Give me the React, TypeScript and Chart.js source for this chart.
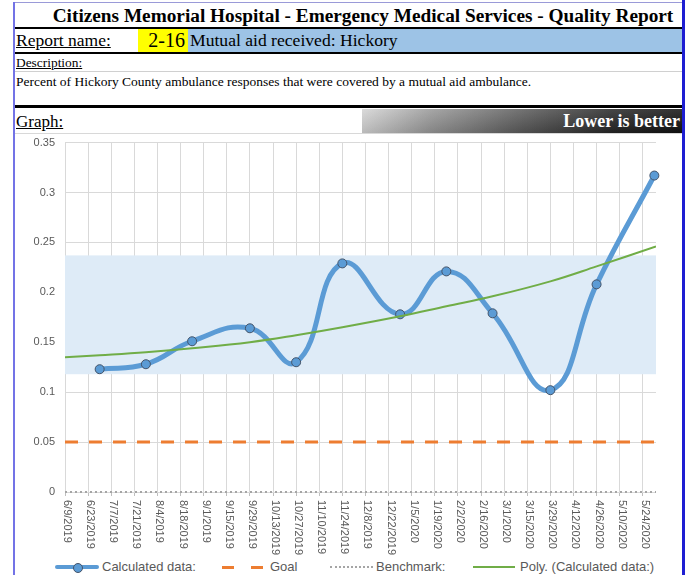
import React, { useEffect, useRef } from "react";
import { Chart, registerables } from "chart.js";

Chart.register(...registerables);

// ---- Data ----
const X_LABELS = [
  "6/9/2019", "6/23/2019", "7/7/2019", "7/21/2019", "8/4/2019", "8/18/2019",
  "9/1/2019", "9/15/2019", "9/29/2019", "10/13/2019", "10/27/2019", "11/10/2019",
  "11/24/2019", "12/8/2019", "12/22/2019", "1/5/2020", "1/19/2020", "2/2/2020",
  "2/16/2020", "3/1/2020", "3/15/2020", "3/29/2020", "4/12/2020", "4/26/2020",
  "5/10/2020", "5/24/2020",
];
const TICK_STEP_DAYS = 14; // days between axis labels
const X_MAX_DAYS = 358; // axis end (days after 6/9/2019)

// days after 6/9/2019 of each measurement
const CALC_DAYS = [21, 49, 77, 112, 140, 168, 203, 231, 259, 294, 322, 357];
const CALC_VALUES = [0.123, 0.128, 0.151, 0.164, 0.13, 0.229, 0.178, 0.221, 0.179, 0.102, 0.208, 0.317];

// polynomial trend
const TREND_DAYS = [0, 21, 49, 77, 112, 140, 168, 203, 231, 259, 294, 322, 358];
const TREND_VALUES = [0.135, 0.137, 0.14, 0.144, 0.15, 0.157, 0.165, 0.176, 0.186, 0.196, 0.211, 0.226, 0.246];

const GOAL_VALUE = 0.05;
const BENCHMARK_VALUE = 0;
const BAND_LOW = 0.118;
const BAND_HIGH = 0.237;

const Y_MAX = 0.35;
const Y_STEP = 0.05;

const FONT = "'Liberation Sans', Arial, sans-serif";
const SERIF = "'Liberation Serif', 'Times New Roman', serif";
const AXIS_TEXT = "#595959";

const bandPlugin = {
  id: "band",
  beforeDatasetsDraw(chart: any) {
    const { ctx, chartArea: a, scales } = chart;
    const y = scales.y;
    const top = y.getPixelForValue(BAND_HIGH);
    const bot = y.getPixelForValue(BAND_LOW);
    ctx.save();
    ctx.fillStyle = "#DEEBF7";
    ctx.fillRect(a.left, top, a.right - a.left, bot - top);
    ctx.restore();
  },
};

const xLabelPlugin = {
  id: "xlabels",
  afterDraw(chart: any) {
    const { ctx, chartArea: a, scales } = chart;
    const x = scales.x;
    ctx.save();
    ctx.fillStyle = AXIS_TEXT;
    ctx.font = `11px ${FONT}`;
    ctx.textAlign = "left";
    ctx.textBaseline = "middle";
    X_LABELS.forEach((lab, i) => {
      const px = x.getPixelForValue(i * TICK_STEP_DAYS);
      ctx.save();
      ctx.translate(px + 2, a.bottom + 8);
      ctx.rotate(Math.PI / 2);
      ctx.fillText(lab, 0, 0);
      ctx.restore();
    });
    ctx.restore();
  },
};

function ChartCanvas() {
  const ref = useRef<HTMLCanvasElement | null>(null);
  useEffect(() => {
    if (!ref.current) return;
    const toPts = (xs: number[], ys: number[]) => xs.map((d, i) => ({ x: d, y: ys[i] }));
    const chart = new Chart(ref.current, {
      type: "line",
      data: {
        datasets: [
          {
            label: "Poly. (Calculated data:)",
            data: toPts(TREND_DAYS, TREND_VALUES),
            borderColor: "#70AD47",
            borderWidth: 2,
            pointRadius: 0,
            tension: 0.4,
            fill: false,
            order: 0,
          },
          {
            label: "Calculated data:",
            data: toPts(CALC_DAYS, CALC_VALUES),
            borderColor: "#5B9BD5",
            borderWidth: 5,
            pointRadius: 4.5,
            pointBackgroundColor: "#5B9BD5",
            pointBorderColor: "#44546A",
            pointBorderWidth: 1,
            tension: 0.45,
            fill: false,
            order: 1,
            clip: 8,
          },
          {
            label: "Goal",
            data: [
              { x: 0, y: GOAL_VALUE },
              { x: X_MAX_DAYS, y: GOAL_VALUE },
            ],
            borderColor: "#ED7D31",
            borderWidth: 3,
            borderDash: [13, 11],
            pointRadius: 0,
            fill: false,
            order: 2,
          },
          {
            label: "Benchmark:",
            data: [
              { x: 0, y: BENCHMARK_VALUE },
              { x: X_MAX_DAYS, y: BENCHMARK_VALUE },
            ],
            borderColor: "#A5A5A5",
            borderWidth: 2,
            borderDash: [2, 3],
            pointRadius: 0,
            fill: false,
            order: 3,
            clip: false,
          },
        ],
      },
      options: {
        animation: false,
        responsive: false,
        maintainAspectRatio: false,
        layout: { padding: { top: 7, right: 26, left: 0, bottom: 0 } },
        plugins: { legend: { display: false }, tooltip: { enabled: false } },
        scales: {
          x: {
            type: "linear",
            min: 0,
            max: X_MAX_DAYS,
            afterBuildTicks: (s: any) => {
              s.ticks = X_LABELS.map((_, i) => ({ value: i * TICK_STEP_DAYS }));
            },
            afterFit: (s: any) => {
              s.height = 66;
            },
            ticks: { display: false },
            grid: { color: "#D9D9D9", lineWidth: 1, drawTicks: true, tickLength: 4, tickColor: "#BFBFBF" },
            border: { display: false },
          },
          y: {
            min: 0,
            max: Y_MAX,
            afterFit: (s: any) => {
              s.width = 50;
            },
            ticks: {
              stepSize: Y_STEP,
              color: AXIS_TEXT,
              font: { family: FONT, size: 11 },
              padding: 10,
              callback: (v: any) => String(Math.round(Number(v) * 100) / 100),
            },
            grid: { color: "#D9D9D9", lineWidth: 1, drawTicks: false },
            border: { display: false },
          },
        },
      },
      plugins: [bandPlugin, xLabelPlugin],
    } as any);
    return () => chart.destroy();
  }, []);
  return (
    <canvas
      ref={ref}
      width={667}
      height={432}
      style={{ position: "absolute", left: 15, top: 126, width: 667, height: 432 }}
    />
  );
}

function LegendItem(props: { left: number; sample: React.ReactNode; text: string; textLeft: number }) {
  return (
    <>
      <div style={{ position: "absolute", left: props.left, top: 560, height: 14 }}>{props.sample}</div>
      <div
        style={{
          position: "absolute",
          left: props.textLeft,
          top: 559,
          font: `13px ${FONT}`,
          color: AXIS_TEXT,
          lineHeight: "16px",
          whiteSpace: "nowrap",
        }}
      >
        {props.text}
      </div>
    </>
  );
}

export default function App() {
  return (
    <div
      style={{
        position: "fixed",
        left: 0,
        top: 0,
        width: 689,
        height: 575,
        background: "#fff",
        overflow: "hidden",
      }}
    >
      {/* frame */}
      <div style={{ position: "absolute", left: 13, top: 2, width: 670, height: 1, background: "#9A9AD8" }} />
      <div style={{ position: "absolute", left: 13, top: 2, width: 2, height: 573, background: "#7373E6" }} />
      <div style={{ position: "absolute", left: 682, top: 0, width: 3, height: 575, background: "#1E1ED2" }} />

      {/* title */}
      <div
        style={{
          position: "absolute",
          left: 44,
          top: 3,
          width: 638,
          height: 24,
          textAlign: "center",
          font: `bold 19.3px ${SERIF}`,
          lineHeight: "25px",
          color: "#000",
          whiteSpace: "nowrap",
        }}
      >
        Citizens Memorial Hospital - Emergency Medical Services - Quality Report
      </div>
      <div style={{ position: "absolute", left: 15, top: 27, width: 667, height: 2, background: "#000" }} />

      {/* report name row */}
      <div
        style={{
          position: "absolute",
          left: 16,
          top: 29,
          font: `17.5px ${SERIF}`,
          lineHeight: "23px",
          textDecoration: "underline",
          whiteSpace: "nowrap",
        }}
      >
        Report name:
      </div>
      <div
        style={{
          position: "absolute",
          left: 138,
          top: 29,
          width: 50,
          height: 23,
          background: "#FFFF00",
          font: `20px ${SERIF}`,
          lineHeight: "23px",
          textAlign: "right",
          boxSizing: "border-box",
          paddingRight: 3,
        }}
      >
        2-16
      </div>
      <div
        style={{
          position: "absolute",
          left: 188,
          top: 29,
          width: 494,
          height: 23,
          background: "#9DC3E6",
          font: `17.6px ${SERIF}`,
          lineHeight: "23px",
          paddingLeft: 2,
          boxSizing: "border-box",
          whiteSpace: "nowrap",
        }}
      >
        Mutual aid received: Hickory
      </div>
      <div style={{ position: "absolute", left: 15, top: 52, width: 667, height: 2, background: "#000" }} />

      {/* description */}
      <div
        style={{
          position: "absolute",
          left: 16,
          top: 55,
          font: `13.4px ${SERIF}`,
          lineHeight: "15px",
          textDecoration: "underline",
        }}
      >
        Description:
      </div>
      <div style={{ position: "absolute", left: 15, top: 71, width: 667, height: 1, background: "#D0D0D0" }} />
      <div
        style={{
          position: "absolute",
          left: 16,
          top: 74,
          font: `13.5px ${SERIF}`,
          lineHeight: "16px",
          whiteSpace: "nowrap",
        }}
      >
        Percent of Hickory County ambulance responses that were covered by a mutual aid ambulance.
      </div>
      <div style={{ position: "absolute", left: 15, top: 105, width: 667, height: 3, background: "#000" }} />

      {/* graph header */}
      <div
        style={{
          position: "absolute",
          left: 16,
          top: 111,
          font: `17px ${SERIF}`,
          lineHeight: "22px",
          textDecoration: "underline",
        }}
      >
        Graph:
      </div>
      <div
        style={{
          position: "absolute",
          left: 362,
          top: 109,
          width: 320,
          height: 24,
          background:
            "linear-gradient(to bottom, rgba(255,255,255,0.15), rgba(0,0,0,0.12)), linear-gradient(to right, #d4d4d4 0%, #969696 22%, #5a5a5a 50%, #262626 78%, #111 100%)",
          color: "#fff",
          font: `bold 18px ${SERIF}`,
          lineHeight: "24px",
          textAlign: "right",
          paddingRight: 2,
          boxSizing: "border-box",
          whiteSpace: "nowrap",
        }}
      >
        Lower is better
      </div>
      <div style={{ position: "absolute", left: 15, top: 133, width: 667, height: 1, background: "#D8D8D8" }} />

      <ChartCanvas />

      {/* legend */}
      <LegendItem
        left={55}
        textLeft={102}
        text="Calculated data:"
        sample={
          <div style={{ position: "relative", width: 44, height: 14 }}>
            <div style={{ position: "absolute", left: 0, top: 5, width: 44, height: 4, background: "#5B9BD5", borderRadius: 2 }} />
            <div
              style={{
                position: "absolute",
                left: 18,
                top: 3,
                width: 8,
                height: 8,
                borderRadius: "50%",
                background: "#5B9BD5",
                border: "1px solid #44546A",
              }}
            />
          </div>
        }
      />
      <LegendItem
        left={222}
        textLeft={270}
        text="Goal"
        sample={
          <div style={{ position: "relative", width: 42, height: 14 }}>
            <div style={{ position: "absolute", left: 0, top: 6, width: 12, height: 3, background: "#ED7D31" }} />
            <div style={{ position: "absolute", left: 29, top: 6, width: 12, height: 3, background: "#ED7D31" }} />
          </div>
        }
      />
      <LegendItem
        left={330}
        textLeft={376}
        text="Benchmark:"
        sample={
          <div style={{ position: "relative", width: 43, height: 14 }}>
            <div style={{ position: "absolute", left: 0, top: 6, width: 43, height: 0, borderTop: "2px dotted #A5A5A5" }} />
          </div>
        }
      />
      <LegendItem
        left={473}
        textLeft={520}
        text="Poly. (Calculated data:)"
        sample={
          <div style={{ position: "relative", width: 42, height: 14 }}>
            <div style={{ position: "absolute", left: 0, top: 6, width: 42, height: 2, background: "#70AD47" }} />
          </div>
        }
      />
    </div>
  );
}
